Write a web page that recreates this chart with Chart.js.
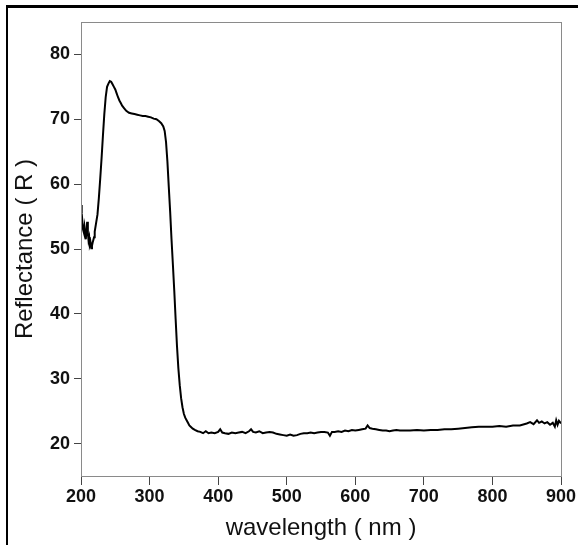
<!DOCTYPE html>
<html>
<head>
<meta charset="utf-8">
<script src="https://cdn.jsdelivr.net/npm/chart.js@4/dist/chart.umd.min.js"></script>
<style>
  html, body { margin: 0; padding: 0; background: #fff; overflow: hidden; }
  #wrap { position: relative; width: 580px; height: 545px; }
  #frame {
    position: absolute; left: 6px; top: 5px; width: 570px; height: 560px;
    border-top: 3px solid #000; border-left: 2px solid #000;
  }
  canvas { position: absolute; left: 0; top: 0; }
</style>
</head>
<body>
<div id="wrap">
  <div id="frame"></div>
  <canvas id="chart" width="580" height="545"></canvas>
</div>
<script>
// wavelength (nm) and reflectance (R)
const wavelength = [
  200, 201, 202, 203, 204, 205, 206, 207, 208, 209, 210, 211, 212, 213, 214, 215, 216, 217, 218, 219,
  220, 222, 224, 226, 228, 230, 232, 234, 236, 238, 240, 242, 244, 246, 248, 250, 252, 254, 256, 258,
  260, 263, 266, 270, 274, 278, 282, 286, 290, 294, 298, 302, 306, 310, 314, 317, 320, 322, 324, 326,
  328, 330, 332, 334, 336, 338, 340, 342, 344, 346, 348, 350, 352, 354, 356, 358, 360, 363, 366, 370,
  374, 378, 382, 386, 390, 395, 400, 403, 406, 410, 415, 420, 425, 430, 435, 440, 445, 448, 451, 455,
  460, 465, 470, 475, 480, 485, 490, 495, 500, 505, 510, 515, 520, 525, 530, 535, 540, 545, 550, 555,
  560, 563, 566, 570, 575, 580, 585, 590, 595, 600, 605, 610, 615, 618, 621, 625, 630, 635, 640, 645,
  650, 655, 660, 665, 670, 680, 690, 700, 710, 720, 730, 740, 750, 760, 770, 780, 790, 800, 810, 820,
  830, 840, 850, 855, 860, 865, 868, 872, 876, 880, 884, 888, 891, 893, 895, 897, 900
];
const reflectance = [
  56.8, 55.5, 54.3, 53.0, 52.6, 53.4, 52.2, 51.5, 52.8, 54.2, 52.5, 51.3, 51.8, 50.6, 50.9, 50.1, 50.5, 51.0, 51.4, 51.8,
  52.7, 54.0, 55.3, 57.8, 60.8, 64.0, 67.5, 70.8, 73.4, 75.0, 75.5, 75.9, 75.8, 75.4, 75.0, 74.6, 74.0, 73.4, 72.9, 72.5,
  72.1, 71.7, 71.3, 71.0, 70.9, 70.8, 70.7, 70.6, 70.5, 70.5, 70.4, 70.3, 70.1, 70.0, 69.7, 69.4, 68.9, 68.2, 66.5, 63.5,
  59.6, 55.8, 51.5, 47.6, 43.6, 39.2, 35.0, 31.6, 29.0, 27.0, 25.6, 24.6, 24.0, 23.6, 23.2, 22.8, 22.6, 22.3, 22.1, 21.9,
  21.8, 21.6, 21.9, 21.6, 21.7, 21.6, 21.8, 22.2, 21.7, 21.6, 21.5, 21.7, 21.6, 21.7, 21.8, 21.6, 21.9, 22.2, 21.8, 21.7,
  21.9, 21.6, 21.7, 21.8, 21.7, 21.5, 21.4, 21.3, 21.2, 21.4, 21.2, 21.3, 21.5, 21.6, 21.6, 21.7, 21.6, 21.7, 21.8, 21.8,
  21.7, 21.2, 21.8, 21.8, 21.9, 21.8, 22.0, 21.9, 22.1, 22.0, 22.1, 22.2, 22.3, 22.8, 22.4, 22.3, 22.2, 22.1, 22.0, 22.0,
  21.9, 22.0, 22.1, 22.0, 22.0, 22.0, 22.1, 22.0, 22.1, 22.1, 22.2, 22.2, 22.3, 22.4, 22.5, 22.6, 22.6, 22.6, 22.7, 22.6,
  22.8, 22.8, 23.1, 23.3, 23.0, 23.6, 23.2, 23.4, 23.1, 23.3, 22.9, 23.2, 22.6, 23.6, 22.9, 23.5, 23.1
];

const xTicks = [200, 300, 400, 500, 600, 700, 800, 900];
const yTicks = [20, 30, 40, 50, 60, 70, 80];

const points = wavelength.map((w, i) => ({ x: w, y: reflectance[i] }));

// thin grey box round the plot area
const plotBox = {
  id: 'plotBox',
  afterDraw(chart) {
    const { ctx, chartArea: a } = chart;
    ctx.save();
    ctx.strokeStyle = '#8a8a8a';
    ctx.lineWidth = 1;
    ctx.strokeRect(a.left + 0.5, a.top + 0.5, a.right - a.left, a.bottom - a.top);
    ctx.restore();
  }
};

const tickFont = { family: 'Liberation Sans, Arial', size: 18, weight: 'bold' };
const titleFont = { family: 'Liberation Sans, Arial', size: 24 };

new Chart(document.getElementById('chart'), {
  type: 'line',
  data: {
    datasets: [{
      data: points,
      borderColor: '#000',
      borderWidth: 2,
      pointRadius: 0,
      tension: 0,
      fill: false
    }]
  },
  options: {
    responsive: false,
    animation: false,
    layout: { padding: { top: 22, right: 19, left: 0, bottom: 0 } },
    plugins: { legend: { display: false }, tooltip: { enabled: false } },
    scales: {
      x: {
        type: 'linear',
        min: 200,
        max: 900,
        afterBuildTicks: scale => { scale.ticks = xTicks.map(v => ({ value: v })); },
        afterFit: scale => { scale.height = 69; },
        grid: { drawOnChartArea: false, tickLength: 9, tickColor: '#444' },
        border: { color: '#555', width: 1 },
        ticks: { font: tickFont, color: '#111', padding: 1, maxRotation: 0 },
        title: { display: true, text: 'wavelength ( nm )', font: titleFont, color: '#111', padding: { top: 0, bottom: 2 } }
      },
      y: {
        min: 15,
        max: 85,
        afterBuildTicks: scale => { scale.ticks = yTicks.map(v => ({ value: v })); },
        afterFit: scale => { scale.width = 81; },
        grid: { drawOnChartArea: false, tickLength: 7, tickColor: '#444' },
        border: { color: '#555', width: 1 },
        ticks: { font: tickFont, color: '#111', padding: 4 },
        title: { display: true, text: 'Reflectance ( R )', font: titleFont, color: '#111', padding: { top: 11, bottom: 0 } }
      }
    }
  },
  plugins: [plotBox]
});
</script>
</body>
</html>
